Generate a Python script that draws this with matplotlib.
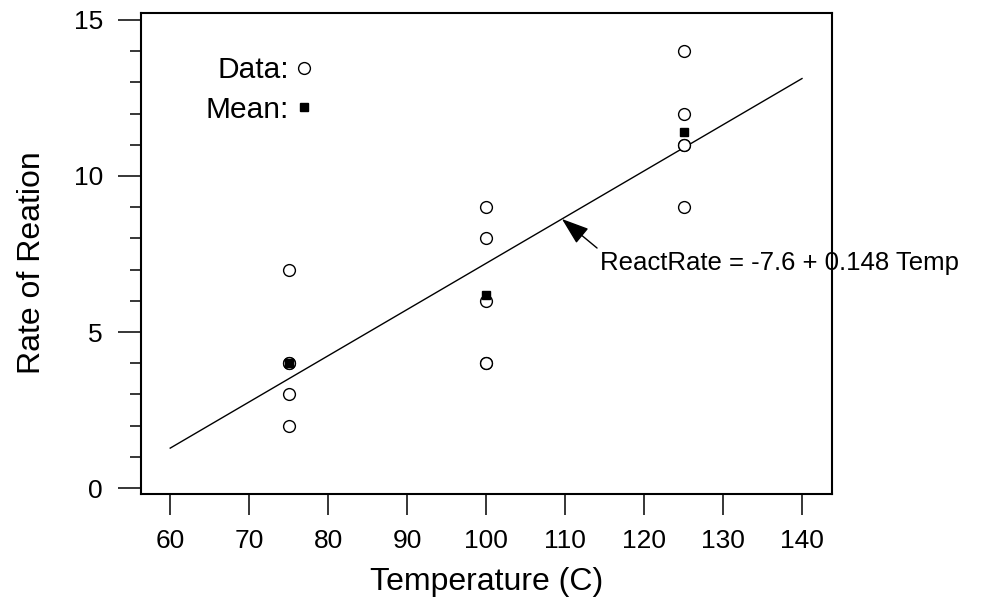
import matplotlib
matplotlib.use("Agg")
import matplotlib.pyplot as plt
import numpy as np
from matplotlib.ticker import MultipleLocator
from matplotlib.lines import Line2D

plt.rcParams['font.family'] = ['Liberation Sans', 'DejaVu Sans']

# data
temps = [75, 75, 75, 75, 75, 100, 100, 100, 100, 100, 125, 125, 125, 125, 125]
rates = [7, 4, 4, 3, 2, 9, 8, 6, 4, 4, 14, 12, 11, 11, 9]
group_temps = [75, 100, 125]
group_means = [4.0, 6.2, 11.4]
intercept = -7.6
slope = 0.148
line_x = [60, 140]
xticks = [60, 70, 80, 90, 100, 110, 120, 130, 140]
yticks = [0, 5, 10, 15]
eq_label = "ReactRate = -7.6 + 0.148 Temp"

fig = plt.figure(figsize=(9.9, 6.09), dpi=100)
ax = fig.add_axes([141/990, 1-494/609, (832-141)/990, (494-13)/609])

lx = np.array(line_x, dtype=float)
ax.plot(lx, intercept + slope*lx, color='black', lw=1.0)
ax.plot(temps, rates, 'o', mfc='white', mec='black', ms=8.5, mew=1.0, ls='none', zorder=3)
ax.plot(group_temps, group_means, 's', mfc='black', mec='black', ms=5.5, ls='none', zorder=4)

ax.set_xlim(56.3, 143.8)
ax.set_ylim(-0.19, 15.22)
ax.set_xticks(xticks)
ax.set_yticks(yticks)
ax.yaxis.set_minor_locator(MultipleLocator(1))

for s in ax.spines.values():
    s.set_linewidth(1.5)
ax.tick_params(axis='both', which='major', direction='out', width=1.1, labelsize=19, colors='black')
ax.tick_params(axis='y', which='major', length=16.5, pad=11)
ax.tick_params(axis='y', which='minor', length=8, width=1.1)
ax.tick_params(axis='x', which='major', length=15, pad=10)

ax.set_xlabel("Temperature (C)", fontsize=23, labelpad=10)
ax.set_ylabel("Rate of Reation", fontsize=23, labelpad=19)
ax.yaxis.label.set_y(0.48)

# annotation: arrow to the fitted line plus equation text
hx = 109.6
ax.annotate("", xy=(hx, intercept + slope*hx), xytext=(114.05, 7.69),
            arrowprops=dict(arrowstyle='-|>,head_length=1.0,head_width=0.35', color='black',
                            lw=1.0, mutation_scale=17, shrinkA=0, shrinkB=0))
ax.text(114.4, 7.21, eq_label, fontsize=18.5, va='center', ha='left')

handles = [Line2D([], [], marker='o', ls='none', mfc='white', mec='black', ms=8.5, mew=1.0),
           Line2D([], [], marker='s', ls='none', mfc='black', mec='black', ms=5.5)]
ax.legend(handles, ["Data:", "Mean:"], markerfirst=False, frameon=False,
          loc='upper right', bbox_to_anchor=(0.2547, 0.91), fontsize=21.5,
          handlelength=0.85, handletextpad=0.1, labelspacing=0.38, borderaxespad=0, borderpad=0)

fig.savefig("out.png", dpi=100)
